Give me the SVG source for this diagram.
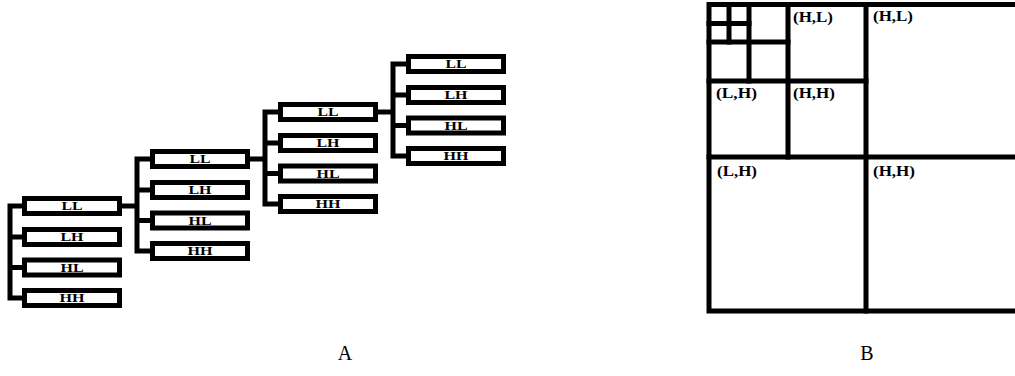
<svg xmlns="http://www.w3.org/2000/svg" width="1015" height="376" viewBox="0 0 1015 376">
  <style>
    .box { fill: #fff; stroke: #000; stroke-width: 5; }
    .wire { fill: none; stroke: #000; stroke-width: 5; stroke-linejoin: miter; }
    .grid { fill: none; stroke: #000; stroke-width: 5; stroke-linecap: square; }
    .lbl { font-family: "Liberation Serif", "Times New Roman", serif; font-weight: bold; font-size: 12px; text-anchor: middle; fill: #000; }
    .cell { font-family: "Liberation Serif", "Times New Roman", serif; font-weight: bold; font-size: 14px; fill: #000; }
    .cap { font-family: "Liberation Serif", "Times New Roman", serif; font-size: 20px; text-anchor: middle; fill: #000; }
  </style>
  <rect width="1015" height="376" fill="#fff"/>

  <!-- A: four-level subband decomposition tree -->
  <g id="connectors">
    <!-- level 1 -->
    <path class="wire" d="M24,206 H10 V298 H24 M10,237 H24 M10,267.5 H24"/>
    <!-- level 1 LL to level 2 -->
    <path class="wire" d="M120,206 H137 M152,159 H137 V251 H152 M137,190 H152 M137,220.5 H152"/>
    <!-- level 2 LL to level 3 -->
    <path class="wire" d="M248,159 H265 M280,112 H265 V204 H280 M265,143 H280 M265,173.5 H280"/>
    <!-- level 3 LL to level 4 -->
    <path class="wire" d="M376,112 H393 M408,64 H393 V156 H408 M393,95 H408 M393,125.5 H408"/>
  </g>

  <g id="l1-ll"><rect class="box" x="24.5" y="198.5" width="95" height="15"/><text class="lbl" x="72" y="210" textLength="21" lengthAdjust="spacingAndGlyphs">LL</text></g>
  <g id="l1-lh"><rect class="box" x="24.5" y="229.5" width="95" height="15"/><text class="lbl" x="72" y="241" textLength="23" lengthAdjust="spacingAndGlyphs">LH</text></g>
  <g id="l1-hl"><rect class="box" x="24.5" y="260" width="95" height="15"/><text class="lbl" x="72" y="271.5" textLength="23" lengthAdjust="spacingAndGlyphs">HL</text></g>
  <g id="l1-hh"><rect class="box" x="24.5" y="290.5" width="95" height="15"/><text class="lbl" x="72" y="302" textLength="25" lengthAdjust="spacingAndGlyphs">HH</text></g>

  <g id="l2-ll"><rect class="box" x="152.5" y="151.5" width="95" height="15"/><text class="lbl" x="200" y="163" textLength="21" lengthAdjust="spacingAndGlyphs">LL</text></g>
  <g id="l2-lh"><rect class="box" x="152.5" y="182.5" width="95" height="15"/><text class="lbl" x="200" y="194" textLength="23" lengthAdjust="spacingAndGlyphs">LH</text></g>
  <g id="l2-hl"><rect class="box" x="152.5" y="213" width="95" height="15"/><text class="lbl" x="200" y="224.5" textLength="23" lengthAdjust="spacingAndGlyphs">HL</text></g>
  <g id="l2-hh"><rect class="box" x="152.5" y="243.5" width="95" height="15"/><text class="lbl" x="200" y="255" textLength="25" lengthAdjust="spacingAndGlyphs">HH</text></g>

  <g id="l3-ll"><rect class="box" x="280.5" y="104.5" width="95" height="15"/><text class="lbl" x="328" y="116" textLength="21" lengthAdjust="spacingAndGlyphs">LL</text></g>
  <g id="l3-lh"><rect class="box" x="280.5" y="135.5" width="95" height="15"/><text class="lbl" x="328" y="147" textLength="23" lengthAdjust="spacingAndGlyphs">LH</text></g>
  <g id="l3-hl"><rect class="box" x="280.5" y="166" width="95" height="15"/><text class="lbl" x="328" y="177.5" textLength="23" lengthAdjust="spacingAndGlyphs">HL</text></g>
  <g id="l3-hh"><rect class="box" x="280.5" y="196.5" width="95" height="15"/><text class="lbl" x="328" y="208" textLength="25" lengthAdjust="spacingAndGlyphs">HH</text></g>

  <g id="l4-ll"><rect class="box" x="408.5" y="56.5" width="95" height="15"/><text class="lbl" x="456" y="68" textLength="21" lengthAdjust="spacingAndGlyphs">LL</text></g>
  <g id="l4-lh"><rect class="box" x="408.5" y="87.5" width="95" height="15"/><text class="lbl" x="456" y="99" textLength="23" lengthAdjust="spacingAndGlyphs">LH</text></g>
  <g id="l4-hl"><rect class="box" x="408.5" y="118" width="95" height="15"/><text class="lbl" x="456" y="129.5" textLength="23" lengthAdjust="spacingAndGlyphs">HL</text></g>
  <g id="l4-hh"><rect class="box" x="408.5" y="148.5" width="95" height="15"/><text class="lbl" x="456" y="160" textLength="25" lengthAdjust="spacingAndGlyphs">HH</text></g>

  <!-- B: recursive quadrant partition -->
  <g id="partition">
    <path class="grid" d="M1017,4.5 H709 V311 H1017"/>
    <path class="grid" d="M866,4.5 V311 M709,157 H1017"/>
    <path class="grid" d="M788,4.5 V157 M709,81 H866"/>
    <path class="grid" d="M749,4.5 V81 M709,42 H788"/>
    <path class="grid" d="M729,4.5 V42 M709,23.5 H749"/>
    <text class="cell" x="793" y="22" textLength="40" lengthAdjust="spacingAndGlyphs">(H,L)</text>
    <text class="cell" x="873" y="21" textLength="40" lengthAdjust="spacingAndGlyphs">(H,L)</text>
    <text class="cell" x="716" y="98" textLength="41" lengthAdjust="spacingAndGlyphs">(L,H)</text>
    <text class="cell" x="793" y="98" textLength="42" lengthAdjust="spacingAndGlyphs">(H,H)</text>
    <text class="cell" x="717" y="176" textLength="40" lengthAdjust="spacingAndGlyphs">(L,H)</text>
    <text class="cell" x="873" y="176" textLength="42" lengthAdjust="spacingAndGlyphs">(H,H)</text>
  </g>

  <text class="cap" x="345" y="360">A</text>
  <text class="cap" x="867" y="360">B</text>
</svg>
